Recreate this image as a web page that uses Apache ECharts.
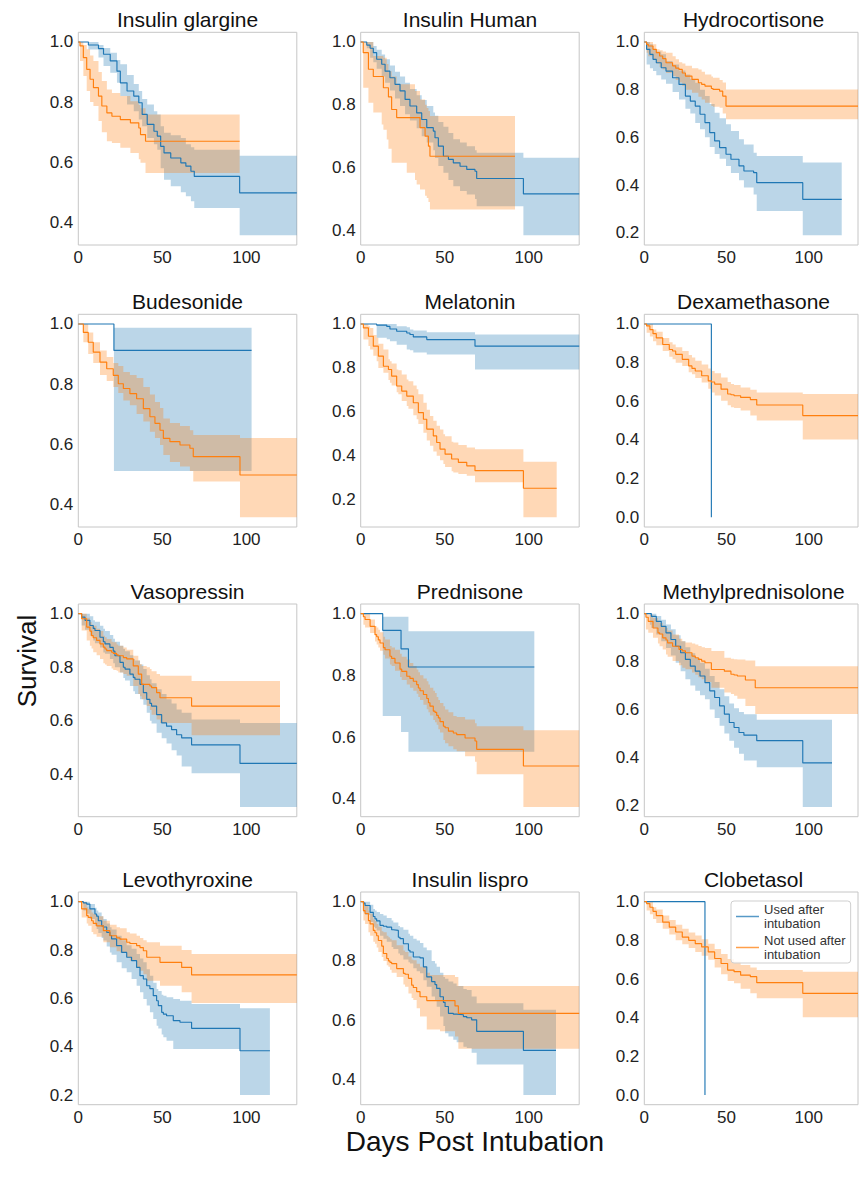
<!DOCTYPE html>
<html><head><meta charset="utf-8">
<script src="https://cdn.jsdelivr.net/npm/echarts@6/dist/echarts.min.js"></script>
<style>html,body{margin:0;padding:0;background:#fff}#c{width:861px;height:1188px}</style>
</head><body><div id="c"></div>
<script>
// ---------- DATA (rows: [day, survival, lowerCI, upperCI], step-post) ----------
const panelTitles = ['Insulin glargine','Insulin Human','Hydrocortisone','Budesonide','Melatonin','Dexamethasone','Vasopressin','Prednisone','Methylprednisolone','Levothyroxine','Insulin lispro','Clobetasol'];
const groupNames = ['Used after intubation','Not used after intubation'];
const xTickValues = [0, 50, 100];
const xAxisMax = 130;

const glargineUsed = [[0,1,1,1],[6,0.99,0.975,1],[12,0.978,0.948,0.99],[15,0.959,0.92,0.98],[19,0.937,0.898,0.964],[23,0.903,0.864,0.94],[25,0.864,0.82,0.926],[29,0.837,0.792,0.89],[33,0.82,0.77,0.86],[36,0.798,0.742,0.837],[38,0.759,0.72,0.81],[41,0.726,0.681,0.792],[45,0.703,0.66,0.77],[47,0.687,0.642,0.759],[49,0.653,0.58,0.72],[51,0.631,0.542,0.698],[55,0.614,0.52,0.69],[61,0.598,0.5,0.681],[64,0.587,0.487,0.66],[67,0.57,0.47,0.65],[69,0.553,0.448,0.642],[96,0.498,0.357,0.622],[130,0.498,0.357,0.622]];
const glargineNot = [[0,1,1,1],[1,0.987,0.937,1],[3,0.948,0.887,0.99],[5,0.909,0.837,0.976],[7,0.876,0.8,0.955],[9,0.848,0.787,0.937],[12,0.82,0.737,0.9],[14,0.787,0.7,0.87],[17,0.764,0.67,0.842],[20,0.753,0.664,0.83],[25,0.742,0.648,0.82],[31,0.731,0.631,0.803],[36,0.714,0.61,0.79],[37,0.692,0.598,0.78],[40,0.67,0.564,0.759],[96,0.67,0.564,0.759]];

const humanUsed = [[0,1,1,1],[3.6,0.99,0.98,1],[5.6,0.98,0.95,1],[7.5,0.966,0.935,0.987],[9.5,0.945,0.915,0.975],[12.5,0.929,0.89,0.96],[14.5,0.907,0.87,0.945],[17.4,0.886,0.845,0.925],[20.4,0.865,0.82,0.905],[23.4,0.844,0.796,0.89],[26.4,0.817,0.77,0.87],[29.3,0.796,0.75,0.85],[33.3,0.774,0.725,0.83],[36.3,0.753,0.7,0.815],[39.3,0.727,0.68,0.796],[43.2,0.716,0.655,0.775],[44.2,0.695,0.63,0.765],[46.2,0.668,0.605,0.745],[49.2,0.636,0.583,0.73],[52.2,0.626,0.56,0.71],[55.1,0.615,0.54,0.69],[59.1,0.604,0.525,0.68],[63.1,0.594,0.514,0.668],[68,0.588,0.5,0.655],[69,0.565,0.477,0.647],[96.8,0.516,0.384,0.631],[130,0.516,0.384,0.631]];
const humanNot = [[0,1,1,1],[1.5,0.966,0.854,1],[4.6,0.913,0.806,1],[7.5,0.89,0.775,0.955],[12.5,0.89,0.737,0.955],[13.5,0.854,0.72,0.95],[15.5,0.854,0.689,0.93],[16.5,0.825,0.66,0.907],[18.4,0.785,0.615,0.89],[21.4,0.759,0.615,0.865],[27.4,0.759,0.583,0.865],[32.3,0.759,0.56,0.844],[33.3,0.759,0.546,0.844],[35.3,0.727,0.53,0.817],[38.3,0.7,0.51,0.8],[39.3,0.7,0.503,0.79],[40.3,0.668,0.49,0.78],[41.2,0.636,0.466,0.764],[91.8,0.636,0.466,0.764]];

const hydroUsed = [[0,1,1,1],[1.4,0.969,0.906,1],[3.4,0.948,0.89,0.99],[5.3,0.927,0.878,0.969],[7.3,0.913,0.86,0.96],[10.3,0.892,0.843,0.948],[13.2,0.878,0.825,0.92],[17.2,0.85,0.79,0.905],[21.1,0.822,0.759,0.88],[25,0.773,0.72,0.864],[28,0.752,0.7,0.845],[31,0.731,0.66,0.829],[33.9,0.697,0.634,0.8],[36.9,0.662,0.6,0.773],[39.8,0.62,0.56,0.74],[42.8,0.585,0.53,0.703],[45.8,0.557,0.51,0.68],[49.7,0.529,0.48,0.655],[52.7,0.508,0.45,0.627],[57.6,0.48,0.42,0.592],[60.6,0.459,0.39,0.57],[66.5,0.452,0.36,0.535],[68.4,0.41,0.291,0.522],[96.4,0.34,0.189,0.494],[120.1,0.34,0.189,0.494]];
const hydroNot = [[0,1,1,1],[1.4,0.99,0.955,1],[2.4,0.983,0.94,1],[5.3,0.969,0.927,0.99],[7.3,0.955,0.91,0.969],[9.3,0.941,0.895,0.965],[11.2,0.93,0.885,0.96],[13.2,0.913,0.87,0.955],[17.2,0.9,0.857,0.94],[19.1,0.89,0.84,0.927],[21.1,0.885,0.83,0.915],[23.1,0.87,0.815,0.91],[25,0.857,0.8,0.9],[29,0.843,0.787,0.89],[32.9,0.829,0.77,0.885],[34.9,0.822,0.759,0.875],[36.9,0.815,0.745,0.864],[40.8,0.805,0.731,0.855],[41.8,0.801,0.728,0.85],[45.8,0.794,0.724,0.84],[47.7,0.773,0.7,0.83],[49.7,0.731,0.676,0.801],[130,0.731,0.676,0.801]];

const budesonideUsed = [[0,1,1,1],[21.2,0.912,0.51,0.987],[103.1,0.912,0.51,0.987]];
const budesonideNot = [[0,1,1,1],[3,0.972,0.939,1],[5.9,0.939,0.9,0.972],[8.9,0.906,0.87,0.939],[12.9,0.873,0.83,0.912],[16.9,0.851,0.81,0.89],[20.8,0.829,0.79,0.87],[23.8,0.801,0.77,0.86],[26.8,0.785,0.745,0.84],[30.7,0.768,0.729,0.83],[34.7,0.751,0.7,0.82],[38.7,0.718,0.675,0.79],[42.6,0.691,0.641,0.765],[45.6,0.669,0.62,0.74],[48.6,0.646,0.597,0.72],[50.6,0.619,0.564,0.685],[54.5,0.608,0.54,0.67],[60.5,0.597,0.525,0.66],[66.4,0.586,0.51,0.646],[68.4,0.558,0.475,0.63],[96.2,0.497,0.356,0.62],[130,0.497,0.356,0.62]];

const melatoninUsed = [[0,1,1,1],[9.5,0.995,0.937,1],[15.5,0.989,0.93,1],[17.4,0.977,0.922,1],[21.4,0.967,0.905,0.99],[27.4,0.959,0.884,0.985],[29.3,0.952,0.88,0.975],[31.3,0.941,0.87,0.97],[39.3,0.929,0.861,0.962],[68,0.899,0.793,0.952],[130,0.899,0.793,0.952]];
const melatoninNot = [[0,1,1,1],[1.6,0.982,0.929,1],[4.6,0.944,0.9,0.99],[5.6,0.944,0.884,0.982],[7.5,0.899,0.855,0.95],[9.5,0.899,0.831,0.937],[10.5,0.854,0.8,0.91],[13.5,0.808,0.778,0.884],[16.5,0.793,0.745,0.84],[17.4,0.793,0.733,0.831],[18.4,0.763,0.72,0.82],[21.4,0.718,0.69,0.793],[22.4,0.718,0.68,0.79],[24.4,0.695,0.65,0.77],[27.4,0.672,0.627,0.748],[28.4,0.672,0.615,0.74],[31.3,0.642,0.585,0.72],[33.3,0.642,0.567,0.703],[34.3,0.597,0.545,0.68],[37.3,0.567,0.506,0.642],[39.3,0.522,0.47,0.61],[41.2,0.522,0.446,0.582],[43.2,0.491,0.42,0.56],[45.2,0.461,0.401,0.537],[47.2,0.431,0.38,0.52],[49.2,0.431,0.363,0.499],[50.2,0.408,0.35,0.49],[54.1,0.386,0.33,0.465],[55.1,0.386,0.325,0.461],[58.1,0.371,0.318,0.45],[63.1,0.355,0.31,0.438],[68,0.333,0.28,0.43],[96.8,0.253,0.121,0.374],[116.6,0.253,0.121,0.374]];

const dexamethasoneUsed = [[0,1,1,1],[40.8,0,0,0]];
const dexamethasoneNot = [[0,1,1,1],[1.4,0.99,0.954,1],[3.4,0.971,0.935,1],[5.3,0.95,0.911,0.971],[7.3,0.928,0.89,0.96],[11.2,0.894,0.86,0.928],[15.2,0.868,0.83,0.905],[17.2,0.86,0.817,0.894],[19.1,0.843,0.8,0.88],[23.1,0.817,0.783,0.86],[27,0.783,0.75,0.84],[29,0.77,0.74,0.826],[31,0.757,0.72,0.81],[34.9,0.732,0.697,0.791],[38.9,0.706,0.665,0.77],[40.8,0.7,0.646,0.757],[42.8,0.689,0.63,0.745],[46.7,0.663,0.603,0.723],[50.7,0.638,0.58,0.7],[52.7,0.634,0.569,0.689],[54.6,0.629,0.565,0.685],[58.6,0.62,0.552,0.672],[64.5,0.609,0.526,0.66],[68.4,0.581,0.501,0.646],[96.4,0.526,0.402,0.638],[130,0.526,0.402,0.638]];

const vasopressinUsed = [[0,1,1,1],[2,0.987,0.956,1],[4,0.975,0.94,1],[6.9,0.956,0.918,0.99],[8.9,0.945,0.9,0.975],[9.9,0.937,0.89,0.97],[12.9,0.912,0.874,0.955],[14.9,0.895,0.855,0.944],[15.9,0.887,0.85,0.935],[18.8,0.874,0.831,0.92],[20.8,0.86,0.815,0.906],[21.8,0.843,0.8,0.895],[24.8,0.818,0.78,0.88],[26.8,0.8,0.76,0.868],[27.8,0.793,0.75,0.86],[30.7,0.774,0.73,0.845],[32.7,0.762,0.71,0.831],[33.7,0.755,0.7,0.825],[36.7,0.736,0.68,0.81],[38.7,0.705,0.66,0.793],[40.7,0.68,0.63,0.77],[42.6,0.665,0.6,0.755],[43.6,0.655,0.59,0.74],[46.6,0.623,0.555,0.718],[49.6,0.592,0.535,0.7],[52.5,0.58,0.515,0.68],[55.5,0.567,0.49,0.665],[58.5,0.548,0.47,0.642],[61.5,0.536,0.429,0.63],[67.4,0.51,0.404,0.605],[96.2,0.441,0.278,0.592],[130,0.441,0.278,0.592]];
const vasopressinNot = [[0,1,1,1],[2,0.981,0.937,1],[5,0.95,0.9,0.985],[6.9,0.935,0.88,0.969],[7.9,0.918,0.87,0.96],[8.9,0.91,0.856,0.955],[10.9,0.9,0.845,0.944],[12.9,0.887,0.831,0.935],[14.9,0.875,0.815,0.918],[15.9,0.868,0.81,0.912],[16.9,0.862,0.805,0.905],[19.8,0.856,0.795,0.895],[20.8,0.852,0.79,0.893],[22.8,0.846,0.787,0.885],[23.8,0.843,0.78,0.88],[26.8,0.836,0.775,0.874],[28.8,0.831,0.768,0.865],[32.7,0.805,0.73,0.843],[35.7,0.774,0.7,0.825],[36.7,0.774,0.692,0.812],[37.7,0.736,0.68,0.805],[40.7,0.736,0.655,0.8],[42.6,0.73,0.64,0.793],[43.6,0.724,0.623,0.785],[46.6,0.705,0.605,0.775],[48.6,0.686,0.592,0.768],[67.4,0.655,0.546,0.749],[120,0.655,0.546,0.749]];

const prednisoneUsed = [[0,1,1,1],[13.1,0.946,0.668,0.99],[24,0.886,0.616,0.99],[28.4,0.827,0.552,0.943],[103.3,0.827,0.552,0.943]];
const prednisoneNot = [[0,1,1,1],[1.6,0.99,0.964,1],[2.6,0.981,0.955,1],[5.6,0.959,0.937,0.981],[8.5,0.932,0.91,0.96],[9.5,0.925,0.9,0.955],[10.5,0.915,0.89,0.948],[11.5,0.905,0.88,0.94],[13.5,0.89,0.867,0.925],[14.5,0.883,0.855,0.916],[17.4,0.862,0.835,0.895],[18.4,0.855,0.83,0.89],[20.4,0.84,0.815,0.883],[23.4,0.82,0.795,0.87],[24.4,0.813,0.785,0.86],[27.4,0.797,0.77,0.851],[29.3,0.79,0.76,0.84],[31.3,0.781,0.75,0.83],[33.3,0.77,0.74,0.819],[34.3,0.759,0.73,0.81],[35.3,0.75,0.72,0.8],[37.3,0.738,0.705,0.79],[39.3,0.725,0.69,0.781],[40.3,0.711,0.68,0.77],[41.2,0.7,0.67,0.76],[43.2,0.684,0.655,0.75],[44.2,0.68,0.648,0.743],[45.2,0.67,0.64,0.73],[46.2,0.662,0.625,0.72],[47.2,0.65,0.615,0.71],[49.2,0.635,0.59,0.7],[50.2,0.63,0.58,0.689],[52.2,0.619,0.57,0.68],[55.1,0.613,0.56,0.668],[57.1,0.608,0.554,0.665],[62.1,0.597,0.538,0.657],[68,0.587,0.52,0.645],[69,0.56,0.479,0.635],[96.8,0.506,0.373,0.622],[130,0.506,0.373,0.622]];

const methylprednisoloneUsed = [[0,1,1,1],[3.4,1,0.954,1],[4.3,0.989,0.94,1],[7.3,0.968,0.913,0.99],[10.3,0.947,0.885,0.975],[13.2,0.92,0.857,0.955],[16.2,0.892,0.825,0.935],[19.1,0.864,0.795,0.91],[22.1,0.837,0.76,0.885],[25,0.809,0.726,0.86],[28,0.781,0.7,0.835],[31,0.76,0.678,0.815],[33.9,0.74,0.66,0.795],[36.9,0.712,0.643,0.77],[39.8,0.678,0.6,0.74],[42.8,0.65,0.565,0.715],[45.8,0.615,0.532,0.685],[48.7,0.581,0.5,0.655],[51.7,0.546,0.47,0.625],[54.6,0.525,0.44,0.605],[57.6,0.504,0.415,0.59],[60.6,0.493,0.387,0.58],[68.4,0.47,0.359,0.557],[96.4,0.377,0.193,0.557],[114.2,0.377,0.193,0.557]];
const methylprednisoloneNot = [[0,1,1,1],[1,0.985,0.934,1],[2.4,0.968,0.92,0.995],[5.3,0.94,0.899,0.982],[8.3,0.92,0.875,0.965],[9.3,0.915,0.864,0.961],[11.2,0.899,0.85,0.95],[13.2,0.89,0.83,0.94],[14.2,0.878,0.82,0.93],[17.2,0.864,0.802,0.913],[21.1,0.851,0.785,0.895],[23.1,0.845,0.774,0.885],[25,0.837,0.768,0.88],[29,0.823,0.754,0.875],[31,0.816,0.745,0.871],[32.9,0.809,0.735,0.865],[34.9,0.802,0.726,0.86],[36.9,0.795,0.715,0.857],[40.8,0.767,0.691,0.844],[48.7,0.76,0.671,0.816],[52.7,0.747,0.665,0.812],[54.6,0.744,0.657,0.81],[56.6,0.74,0.645,0.809],[61.5,0.723,0.615,0.805],[67.5,0.691,0.581,0.781],[130,0.691,0.581,0.781]];

const levothyroxineUsed = [[0,1,1,1],[3,0.995,0.963,1],[5,0.99,0.95,1],[6.9,0.97,0.928,0.99],[9.9,0.949,0.9,0.975],[10.9,0.94,0.887,0.963],[11.9,0.921,0.87,0.955],[13.9,0.9,0.85,0.94],[14.9,0.895,0.839,0.928],[16.9,0.873,0.815,0.91],[18.8,0.86,0.79,0.894],[19.8,0.846,0.78,0.885],[22.8,0.818,0.749,0.859],[25.8,0.79,0.725,0.84],[28.8,0.77,0.708,0.82],[31.7,0.756,0.68,0.805],[34.7,0.728,0.652,0.783],[36.7,0.694,0.625,0.765],[38.7,0.68,0.597,0.749],[40.7,0.652,0.57,0.72],[42.6,0.64,0.542,0.694],[44.6,0.611,0.515,0.665],[46.6,0.59,0.487,0.639],[47.6,0.57,0.475,0.63],[49.6,0.542,0.45,0.615],[50.6,0.535,0.439,0.611],[52.5,0.528,0.425,0.605],[56.5,0.508,0.39,0.597],[60.5,0.501,0.39,0.59],[67.4,0.476,0.39,0.577],[96.2,0.383,0.2,0.559],[114,0.383,0.2,0.559]];
const levothyroxineNot = [[0,1,1,1],[2,0.97,0.935,1],[5,0.942,0.91,0.977],[5.9,0.935,0.9,0.97],[7.9,0.921,0.875,0.955],[8.9,0.91,0.865,0.949],[10.9,0.9,0.855,0.94],[14.9,0.88,0.832,0.921],[18.8,0.859,0.811,0.905],[22.8,0.85,0.795,0.894],[24.8,0.845,0.79,0.89],[28.8,0.832,0.77,0.873],[30.7,0.827,0.756,0.868],[34.7,0.818,0.73,0.859],[36.7,0.81,0.714,0.85],[38.7,0.797,0.7,0.84],[40.7,0.77,0.673,0.832],[48.6,0.749,0.652,0.818],[61.5,0.728,0.625,0.8],[67.4,0.697,0.581,0.783],[130,0.697,0.581,0.783]];

const lisproUsed = [[0,1,1,1],[1.6,0.995,0.964,1],[2.6,0.987,0.955,1],[5.6,0.964,0.931,0.99],[7.5,0.95,0.915,0.975],[8.5,0.942,0.91,0.97],[9.5,0.935,0.903,0.965],[11.5,0.92,0.885,0.958],[13.5,0.917,0.875,0.953],[15.5,0.914,0.865,0.945],[18.4,0.905,0.847,0.936],[19.4,0.903,0.84,0.93],[22.4,0.88,0.825,0.918],[23.4,0.875,0.819,0.914],[25.4,0.858,0.805,0.905],[28.4,0.836,0.795,0.892],[29.3,0.83,0.791,0.885],[31.3,0.813,0.775,0.875],[33.3,0.813,0.765,0.869],[35.3,0.81,0.758,0.86],[37.3,0.78,0.735,0.845],[39.3,0.746,0.713,0.836],[42.2,0.73,0.68,0.8],[44.2,0.72,0.668,0.791],[45.2,0.707,0.645,0.78],[47.2,0.679,0.612,0.76],[49.2,0.66,0.58,0.746],[50.2,0.646,0.556,0.74],[52.2,0.623,0.545,0.73],[55.1,0.62,0.534,0.724],[57.1,0.618,0.525,0.715],[61.1,0.612,0.51,0.705],[63.1,0.608,0.506,0.702],[66,0.601,0.49,0.68],[69,0.562,0.45,0.657],[96.8,0.498,0.347,0.635],[116.2,0.498,0.347,0.635]];
const lisproNot = [[0,1,1,1],[1.6,0.97,0.936,1],[2.6,0.96,0.925,0.99],[4.6,0.936,0.897,0.97],[5.6,0.925,0.885,0.959],[7.5,0.903,0.865,0.94],[8.5,0.895,0.858,0.935],[9.5,0.885,0.845,0.925],[10.5,0.869,0.83,0.915],[12.5,0.85,0.813,0.9],[13.5,0.825,0.8,0.897],[15.5,0.808,0.785,0.885],[16.5,0.8,0.78,0.88],[17.4,0.795,0.77,0.875],[18.4,0.791,0.76,0.87],[21.4,0.774,0.746,0.853],[25.4,0.758,0.72,0.835],[26.4,0.755,0.713,0.83],[28.4,0.741,0.69,0.815],[30.3,0.718,0.675,0.805],[31.3,0.71,0.668,0.802],[33.3,0.696,0.64,0.79],[35.3,0.679,0.612,0.78],[39.3,0.666,0.568,0.76],[41.2,0.666,0.568,0.752],[47.2,0.666,0.562,0.752],[56.1,0.648,0.545,0.746],[58.1,0.623,0.503,0.715],[130,0.623,0.503,0.715]];

const clobetasolUsed = [[0,1,1,1],[36.9,0,0,0]];
const clobetasolNot = [[0,1,1,1],[1.4,0.99,0.954,1],[3.4,0.971,0.935,1],[5.3,0.95,0.911,0.971],[7.3,0.928,0.89,0.96],[11.2,0.894,0.86,0.928],[15.2,0.868,0.83,0.905],[19.1,0.843,0.8,0.88],[23.1,0.817,0.78,0.86],[27,0.8,0.76,0.84],[31,0.783,0.74,0.825],[34.9,0.766,0.72,0.805],[38.9,0.74,0.7,0.783],[42.8,0.706,0.66,0.755],[46.7,0.68,0.625,0.73],[50.7,0.646,0.59,0.703],[54.6,0.638,0.578,0.69],[58.6,0.62,0.55,0.672],[64.5,0.612,0.526,0.66],[68.4,0.581,0.501,0.646],[96.4,0.526,0.402,0.638],[130,0.526,0.402,0.638]];

const panelData = [
  [glargineUsed, glargineNot], [humanUsed, humanNot], [hydroUsed, hydroNot],
  [budesonideUsed, budesonideNot], [melatoninUsed, melatoninNot], [dexamethasoneUsed, dexamethasoneNot],
  [vasopressinUsed, vasopressinNot], [prednisoneUsed, prednisoneNot], [methylprednisoloneUsed, methylprednisoloneNot],
  [levothyroxineUsed, levothyroxineNot], [lisproUsed, lisproNot], [clobetasolUsed, clobetasolNot]
];

// ---------- LAYOUT / STYLE ----------
const FONT = '"Liberation Sans", Arial, Helvetica, sans-serif';
const colLeft = [78.3, 360.7, 644.3];
const rowTop = [32.3, 314.3, 604, 892];
const PW = 218.5, PH = 212.7;
const COLORS = ['#1f77b4', '#ff7f0e'];
const BAND_FILL = ['rgba(31,119,180,0.3)', 'rgba(255,127,14,0.3)'];

function isMult(v, step) { const q = v / step; return Math.abs(q - Math.round(q)) < 1e-6; }
function yRange(a, b) {
  let m = 1;
  a.concat(b).forEach(r => { m = Math.min(m, r[1], r[2]); });
  const pad = 0.05 * (1 - m);
  return [m - pad, 1 + pad];
}

// step-post confidence band drawn as one polygon, positioned with the axis scales (api.coord)
function bandRenderer(rows, fill) {
  return function (params, api) {
    if (params.dataIndex !== 0) return null;
    const pts = [];
    for (let k = 0; k < rows.length - 1; k++) {
      pts.push(api.coord([rows[k][0], rows[k][3]]));
      pts.push(api.coord([rows[k + 1][0], rows[k][3]]));
    }
    for (let k = rows.length - 2; k >= 0; k--) {
      pts.push(api.coord([rows[k + 1][0], rows[k][2]]));
      pts.push(api.coord([rows[k][0], rows[k][2]]));
    }
    return {type: 'polygon', shape: {points: pts}, style: {fill: fill, stroke: null}, silent: true};
  };
}

const grids = [], xAxes = [], yAxes = [], series = [], titles = [];
panelData.forEach((pair, i) => {
  const col = i % 3, row = Math.floor(i / 3);
  const left = colLeft[col], top = rowTop[row];
  grids.push({left, top, width: PW, height: PH, show: true, borderColor: '#c6c6c6', borderWidth: 1, backgroundColor: 'rgba(0,0,0,0)'});
  xAxes.push({gridIndex: i, type: 'value', min: 0, max: xAxisMax, minInterval: 50, maxInterval: 50,
    splitLine: {show: false}, axisLine: {show: false}, axisTick: {show: false},
    axisLabel: {fontSize: 17, color: '#222', margin: 4, fontFamily: FONT,
      formatter: v => (xTickValues.indexOf(Math.round(v)) >= 0 && isMult(v, 50)) ? String(Math.round(v)) : ''}});
  const yr = yRange(pair[0], pair[1]);
  yAxes.push({gridIndex: i, type: 'value', min: yr[0], max: yr[1], minInterval: 0.2, maxInterval: 0.2,
    splitLine: {show: false}, axisLine: {show: false}, axisTick: {show: false},
    axisLabel: {fontSize: 17, color: '#222', margin: 5, fontFamily: FONT,
      formatter: v => isMult(v, 0.2) ? (Math.abs(v) < 1e-9 ? 0 : v).toFixed(1) : ''}});
  titles.push({text: panelTitles[i], left: left + PW / 2, top: top - 12.5, textAlign: 'center', textVerticalAlign: 'middle', padding: 0,
    textStyle: {fontSize: 21, fontWeight: 'normal', color: '#111', fontFamily: FONT}});
  pair.forEach((rows, g) => {
    const color = COLORS[g];
    series.push({type: 'custom', name: '_band', coordinateSystem: 'cartesian2d', xAxisIndex: i, yAxisIndex: i,
      clip: true, silent: true, z: 1, renderItem: bandRenderer(rows, BAND_FILL[g]),
      encode: {x: 0, y: 1}, data: rows.map(r => [r[0], r[1]])});
    series.push({type: 'line', name: groupNames[g], xAxisIndex: i, yAxisIndex: i, step: 'end', symbol: 'none', silent: true,
      lineStyle: {color, width: 1.15}, itemStyle: {color}, emphasis: {disabled: true}, z: 2,
      data: rows.map(r => [r[0], r[1]])});
  });
});

const chart = echarts.init(document.getElementById('c'), null, {renderer: 'svg', width: 861, height: 1188});
chart.setOption({
  backgroundColor: '#ffffff',
  animation: false,
  title: titles,
  grid: grids,
  xAxis: xAxes,
  yAxis: yAxes,
  series,
  legend: {data: groupNames, orient: 'vertical', left: 731, top: 901, icon: 'rect', itemWidth: 23, itemHeight: 1.5,
    itemGap: 4, itemStyle: {opacity: 0.75}, selectedMode: false,
    formatter: n => n === groupNames[0] ? 'Used after\nintubation' : 'Not used after\nintubation',
    textStyle: {fontSize: 13, lineHeight: 13.5, color: '#333', fontFamily: FONT},
    backgroundColor: 'rgba(255,255,255,0.85)', borderColor: '#cfcfcf', borderWidth: 1, borderRadius: 3, padding: [2, 5, 2, 5]},
  graphic: [
    {type: 'text', x: 27, y: 661, rotation: Math.PI / 2, style: {text: 'Survival', fontSize: 26, fill: '#111', fontFamily: FONT, align: 'center', verticalAlign: 'middle'}},
    {type: 'text', x: 475, y: 1141, style: {text: 'Days Post Intubation', fontSize: 28, fill: '#111', fontFamily: FONT, align: 'center', verticalAlign: 'middle'}}
  ]
});
</script></body></html>
